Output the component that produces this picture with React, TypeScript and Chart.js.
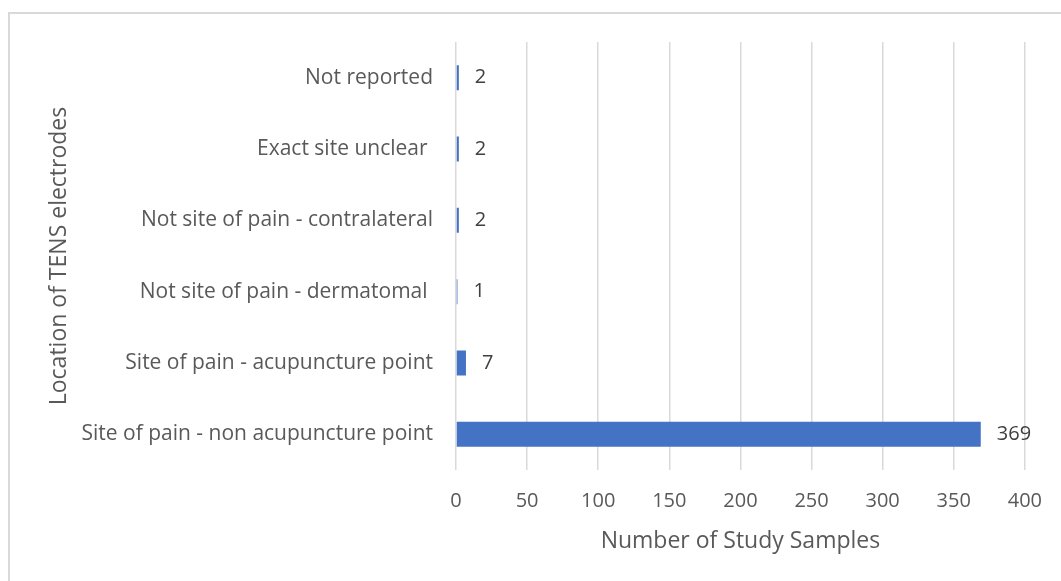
import React, { useEffect, useRef } from "react";
import { Chart, registerables } from "chart.js";

Chart.register(...registerables);

const categories = [
  "Not reported",
  "Exact site unclear ",
  "Not site of pain - contralateral",
  "Not site of pain - dermatomal ",
  "Site of pain - acupuncture point",
  "Site of pain - non acupuncture point",
];
const sampleCounts = [2, 2, 2, 1, 7, 369];
const xMin = 0;
const xMax = 400;
const xStep = 50;

const FONT = "'Open Sans', 'DejaVu Sans', sans-serif";

const frameAndLabels = {
  id: "frameAndLabels",
  afterDatasetsDraw(chart: any) {
    const ctx = chart.ctx;
    const meta = chart.getDatasetMeta(0);
    ctx.save();
    ctx.font = `20px ${FONT}`;
    ctx.fillStyle = "#404040";
    ctx.textAlign = "left";
    ctx.textBaseline = "middle";
    meta.data.forEach((bar: any, i: number) => {
      ctx.fillText(String(sampleCounts[i]), bar.x + 16, bar.y);
    });
    ctx.restore();
  },
  afterDraw(chart: any) {
    const ctx = chart.ctx;
    ctx.save();
    ctx.strokeStyle = "#d9d9d9";
    ctx.lineWidth = 2;
    ctx.beginPath();
    ctx.moveTo(9, chart.height + 10);
    ctx.lineTo(9, 13);
    ctx.lineTo(chart.width + 10, 13);
    ctx.stroke();
    ctx.restore();
  },
};

export default function App() {
  const ref = useRef<HTMLCanvasElement | null>(null);
  useEffect(() => {
    if (!ref.current) return;
    const chart = new Chart(ref.current, {
      type: "bar",
      data: {
        labels: categories,
        datasets: [
          {
            data: sampleCounts,
            backgroundColor: "#4472C4",
            borderWidth: 0,
            categoryPercentage: 0.5,
            barPercentage: 0.7,
          },
        ],
      },
      options: {
        indexAxis: "y",
        animation: false,
        responsive: false,
        maintainAspectRatio: false,
        layout: { padding: { left: 0, top: 42, right: 35, bottom: 0 } },
        plugins: {
          legend: { display: false },
          tooltip: { enabled: false },
        },
        scales: {
          x: {
            min: xMin,
            max: xMax,
            ticks: {
              stepSize: xStep,
              padding: 19,
              color: "#595959",
              font: { family: FONT, size: 20 },
            },
            grid: { color: "#d9d9d9", lineWidth: 1.5, drawTicks: false },
            border: { display: false },
            title: {
              display: true,
              text: "Number of Study Samples",
              color: "#595959",
              font: { family: FONT, size: 23 },
              padding: { top: 0, bottom: 26 },
            },
            afterFit: (scale: any) => {
              scale.height = 111;
            },
          },
          y: {
            ticks: {
              padding: 23,
              color: "#595959",
              font: { family: FONT, size: 21 },
            },
            grid: { display: false, drawTicks: false },
            border: { display: false },
            title: {
              display: true,
              text: "Location of TENS electrodes",
              color: "#595959",
              font: { family: FONT, size: 23 },
              padding: { top: 46, bottom: 0 },
            },
            afterFit: (scale: any) => {
              scale.width = 456;
            },
          },
        },
      },
      plugins: [frameAndLabels],
    });
    return () => chart.destroy();
  }, []);
  return (
    <div style={{ position: "fixed", left: 0, top: 0, width: 1061, height: 581, overflow: "hidden", background: "#fff" }}>
      <canvas ref={ref} width={1061} height={581} style={{ display: "block", width: 1061, height: 581 }} />
    </div>
  );
}
